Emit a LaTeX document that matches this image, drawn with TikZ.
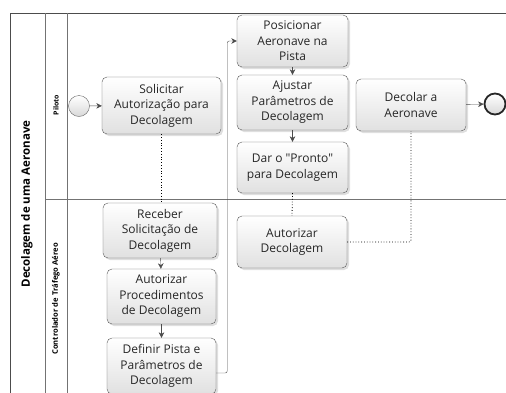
\documentclass[tikz,border=0pt]{standalone}
\usepackage{fontspec}
\setmainfont{Open Sans}
\newfontfamily\diagfont{Open Sans}
\usetikzlibrary{positioning, arrows.meta, shadows}

\begin{document}
\begin{tikzpicture}[
    x=1pt, y=-1pt,
    >={Stealth[length=5.5pt, width=5.5pt]},
    tarefa/.style={rectangle, rounded corners=5pt, draw=black!65, thin,
        top color=white, bottom color=black!12, text=black!85,
        align=center, font=\diagfont\fontsize{12}{15.5}\selectfont, inner sep=2pt,
        drop shadow={opacity=0.25, shadow xshift=2pt, shadow yshift=-2pt}},
    evento/.style={circle, draw=black!60, inner sep=0pt, minimum size=21pt,
        top color=white, bottom color=black!15},
    fim/.style={evento, draw=black!85, line width=1.8pt, minimum size=21pt},
    fluxo/.style={->, draw=black!70, thin},
    msg/.style={draw=black, dotted, line width=0.8pt},
    raia/.style={draw=black!55, thin}
]
    \useasboundingbox (0,0) rectangle (506,392);

    % --- Piscina e raias ---
    \draw[raia, draw=black!70] (506,13) -- (10,13) -- (10,400);
    \draw[raia] (45,13) -- (45,400);
    \draw[raia] (67,13) -- (67,400);
    \draw[raia] (45,199) -- (506,199);

    \node[rotate=90, font=\diagfont\fontsize{11.5}{13}\bfseries\selectfont] (pool) at (27,204) {Decolagem de uma Aeronave};
    \node[rotate=90, font=\diagfont\fontsize{7}{9}\bfseries\selectfont] (lpiloto) at (56,105) {Piloto};
    \node[rotate=90, font=\diagfont\fontsize{7.6}{9}\bfseries\selectfont] (lcontrole) at (56,299) {Controlador de Tráfego Aéreo};

    % --- Raia do Piloto ---
    \node[evento] (inicio) at (79,106) {};
    \node[tarefa, minimum width=119pt, minimum height=57pt] (solicitar) at (161.5,105.5)
        {Solicitar\\Autorização para\\Decolagem};
    \node[tarefa, minimum width=111pt, minimum height=52pt] (posicionar) at (292.5,41)
        {Posicionar\\Aeronave na\\Pista};
    \node[tarefa, minimum width=111pt, minimum height=55pt] (ajustar) at (292.5,102.5)
        {Ajustar\\Parâmetros de\\Decolagem};
    \node[tarefa, minimum width=111pt, minimum height=51pt] (pronto) at (292.5,167.5)
        {Dar o "Pronto"\\para Decolagem};
    \node[tarefa, minimum width=110pt, minimum height=52pt] (decolar) at (411,105)
        {Decolar a\\Aeronave};
    \node[fim] (final) at (495,104) {};

    % --- Raia do Controlador ---
    \node[tarefa, minimum width=114pt, minimum height=55pt] (receber) at (160,230.5)
        {Receber\\Solicitação de\\Decolagem};
    \node[tarefa, minimum width=109pt, minimum height=55pt] (procedimentos) at (161.5,296.5)
        {Autorizar\\Procedimentos\\de Decolagem};
    \node[tarefa, minimum width=109pt, minimum height=56pt] (definir) at (161.5,366)
        {Definir Pista e\\Parâmetros de\\Decolagem};
    \node[tarefa, minimum width=110pt, minimum height=52pt] (autorizar) at (292,242)
        {Autorizar\\Decolagem};

    % --- Fluxos de sequência ---
    \draw[fluxo] (inicio) -- (solicitar);
    \draw[fluxo] (receber) -- (procedimentos);
    \draw[fluxo] (procedimentos) -- (definir);
    \draw[fluxo, rounded corners=2pt] ([yshift=-7pt]definir.east) -- ++(11,0) |- (posicionar.west);
    \draw[fluxo] (posicionar) -- (ajustar);
    \draw[fluxo] (ajustar) -- (pronto);
    \draw[fluxo] (decolar) -- (final);

    % --- Fluxos de mensagem ---
    \draw[msg] (solicitar.south) -- (solicitar.south |- receber.north);
    \draw[msg] (pronto.south) -- (autorizar.north);
    \draw[msg, rounded corners=2pt] (autorizar.east) -| (decolar.south);

\end{tikzpicture}
\end{document}
